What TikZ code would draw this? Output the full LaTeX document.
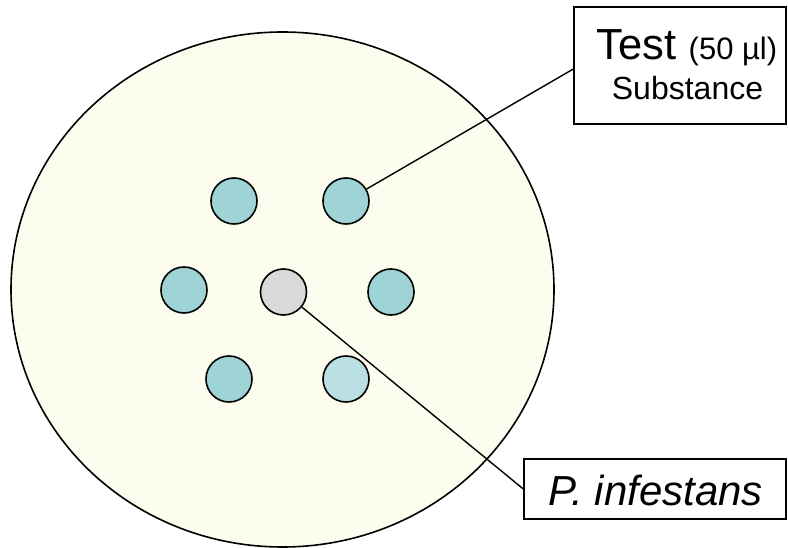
\documentclass[tikz,border=0pt]{standalone}
\usepackage{fontspec}
\setmainfont{Liberation Sans}
\usetikzlibrary{shapes.geometric}
\definecolor{dish}{RGB}{252,253,238}
\definecolor{well}{RGB}{159,212,215}
\definecolor{welllight}{RGB}{186,224,227}
\definecolor{wellgray}{RGB}{217,217,217}
\tikzset{
  wellnode/.style={circle,draw=black,line width=1.6pt,fill=well,minimum size=46pt,inner sep=0pt},
  labelbox/.style={draw=black,line width=1.4pt,fill=white,inner sep=0pt,align=center},
  leader/.style={draw=black,line width=1.4pt}
}
\begin{document}
\begin{tikzpicture}[x=1pt,y=-1pt]
\useasboundingbox (0,0) rectangle (788,548);
\node[ellipse,draw=black,line width=1.6pt,fill=dish,minimum width=543pt,minimum height=515pt,inner sep=0pt] (dish) at (282.5,289.5) {};
\node[wellnode] (tl) at (234,201) {};
\node[wellnode] (tr) at (346,201) {};
\node[wellnode] (ml) at (184,290) {};
\node[wellnode,fill=wellgray] (c) at (283.5,292) {};
\node[wellnode] (mr) at (391,292) {};
\node[wellnode] (bl) at (229,379) {};
\node[wellnode,fill=welllight] (br) at (346,379) {};
\node[labelbox,minimum width=212pt,minimum height=117pt] (test) at (680,65.5) {};
\node[font=\fontsize{43.5}{43.5}\selectfont,anchor=base] (testtxt) at (687,60) {Test \fontsize{31}{31}\selectfont(50 µl)};
\node[font=\fontsize{32}{32}\selectfont,anchor=base] (subst) at (687.5,100) {Substance};
\node[labelbox,minimum width=262pt,minimum height=60pt] (pinf) at (655,489) {};
\node[font=\fontsize{42}{42}\selectfont\itshape,anchor=base] (pinftxt) at (656,505) {P. infestans};
\draw[leader] (tr) -- ([yshift=-3.5pt]test.west);
\draw[leader] (c) -- (pinf.west);
\end{tikzpicture}
\end{document}
